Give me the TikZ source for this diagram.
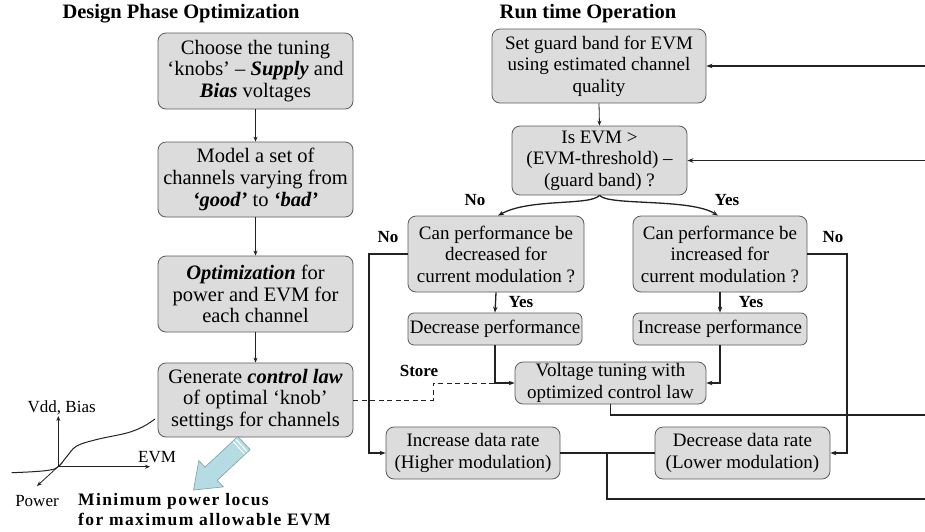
\documentclass[tikz,border=0pt]{standalone}
\usepackage{fontspec}
\setmainfont{Liberation Serif}
\usetikzlibrary{arrows.meta,calc}
\definecolor{boxfill}{HTML}{DCDCDC}
\definecolor{boxline}{HTML}{5A5A5A}
\definecolor{wirecol}{HTML}{222222}
\definecolor{bluefill}{HTML}{B5DCE3}
\definecolor{blueline}{HTML}{7E9EA4}
\tikzset{
  box/.style={draw=boxline, fill=boxfill, rounded corners=8pt, line width=0.8pt,
    align=center, inner sep=0pt, font=\fontsize{19}{21.5}\selectfont},
  bigbox/.style={box, font=\fontsize{20.5}{21.7}\selectfont},
  thinarr/.style={draw=wirecol, line width=0.8pt, -{Stealth[length=5pt,width=4pt]}},
  wire/.style={draw=wirecol, line width=1.3pt},
  warr/.style={wire, -{Stealth[length=6pt,width=4.5pt]}},
  tag/.style={font=\fontsize{17}{19}\bfseries\selectfont, inner sep=0pt},
  title/.style={font=\fontsize{20.5}{22}\bfseries\selectfont, inner sep=0pt},
  plain/.style={font=\fontsize{17}{19}\selectfont, inner sep=0pt},
  locus/.style={anchor=west, inner sep=0pt,
    font=\fontsize{17.5}{19}\bfseries\addfontfeature{LetterSpace=8}\selectfont},
}
\begin{document}
\begin{tikzpicture}[x=1pt,y=-1pt]
\useasboundingbox (0,0) rectangle (925,531);

% ---- titles
\node[title] (t1) at (181,14) {Design Phase Optimization};
\node[title] (t2) at (588,14) {Run time Operation};

% ---- design phase column
\node[bigbox, minimum width=195pt, minimum height=76pt] (D1) at (255.5,71)
  {Choose the tuning\\‘knobs’ – \textbf{\textit{Supply}} and\\\textbf{\textit{Bias}} voltages};
\node[bigbox, minimum width=195pt, minimum height=75pt] (D2) at (255.5,179.5)
  {Model a set of\\channels varying from\\\textbf{\textit{‘good’}} to \textbf{\textit{‘bad’}}};
\node[bigbox, minimum width=195pt, minimum height=76pt] (D3) at (255.5,294)
  {\textbf{\textit{Optimization}} for\\power and EVM for\\each channel};
\node[bigbox, minimum width=195pt, minimum height=74pt] (D4) at (255.5,400)
  {Generate \textbf{\textit{control law}}\\of optimal ‘knob’\\settings for channels};

\draw[thinarr] (D1.south) -- (D2.north);
\draw[thinarr] (D2.south) -- (D3.north);
\draw[thinarr] (D3.south) -- (D4.north);

% ---- run time column
\node[box, minimum width=214pt, minimum height=74pt] (R1) at (599,66)
  {Set guard band for EVM\\using estimated channel\\quality};
\node[box, minimum width=175pt, minimum height=69pt] (R2) at (599.5,160.5)
  {Is EVM >\\(EVM-threshold) –\\(guard band) ?};
\node[box, minimum width=176pt, minimum height=76pt] (Lq) at (496,254)
  {Can performance be\\decreased for\\current modulation ?};
\node[box, minimum width=174pt, minimum height=76pt] (Rq) at (720,254)
  {Can performance be\\increased for\\current modulation ?};
\node[box, minimum width=174pt, minimum height=32pt, rounded corners=6pt] (Dp) at (495,329)
  {Decrease performance};
\node[box, minimum width=174pt, minimum height=32pt, rounded corners=6pt] (Ip) at (720,329)
  {Increase performance};
\node[box, minimum width=191pt, minimum height=42pt] (V) at (610.5,383)
  {Voltage tuning with\\optimized control law};
\node[box, minimum width=174pt, minimum height=52pt] (Idr) at (473,453)
  {Increase data rate\\(Higher modulation)};
\node[box, minimum width=175pt, minimum height=52pt] (Ddr) at (742.5,453)
  {Decrease data rate\\(Lower modulation)};

% loose ends leaving the right border
\coordinate (fb1) at (925,66);
\coordinate (fb2) at (925,160.5);
\coordinate (fb3) at (925,415);
\coordinate (fb4) at (925,499);
\coordinate (lbend) at (369,254);
\coordinate (rbend) at (847,254);
\coordinate (st) at (433,383);
\coordinate (mg) at (495,383);
\coordinate (jn) at (607,453);

\draw[thinarr] (R1.south) -- (R2.north);
\draw[warr] (fb1) -- (R1.east);
\draw[warr] (fb2) -- (R2.east);

\draw[warr] (R2.south) .. controls (590,206) and (530,198) .. ([xshift=2pt]Lq.north);
\draw[warr] (R2.south) .. controls (609,206) and (690,198) .. ([xshift=-2pt]Rq.north);

\draw[warr] (Lq.west) -- (lbend) |- (Idr.west);
\draw[warr] (Rq.east) -- (rbend) |- (Ddr.east);

\draw[warr] (Lq.south) -- (Dp.north);
\draw[warr] (Rq.south) -- (Ip.north);

\draw[warr] (Dp.south) |- (V.west);
\draw[warr] (Ip.south) |- (V.east);

\draw[wire, line width=1pt, dash pattern=on 5pt off 3.5pt] (D4.east) -| (st) -- (mg);

\draw[wire] (V.south) |- (fb3);
\draw[wire] (Idr.east) -- (Ddr.west);
\draw[wire] (jn) |- (fb4);

% ---- branch labels
\node[tag] (n1) at (475,200) {No};
\node[tag] (y1) at (727,200) {Yes};
\node[tag] (n2) at (388,237) {No};
\node[tag] (n3) at (833,237) {No};
\node[tag] (y2) at (521,302) {Yes};
\node[tag] (y3) at (751,302) {Yes};
\node[tag] (sl) at (419,371) {Store};

% ---- sketch of the control law
\draw[thinarr] (58.3,466.7) -- (58.3,416);
\draw[thinarr] (58.3,466.7) -- (150,466.7);
\draw[thinarr] (62,463) -- (37,486);
\draw[line width=1pt, wirecol] plot[smooth, tension=0.6] coordinates
  {(11.7,472.7) (33,471.7) (50,470) (58.3,466.7) (66.7,456.7) (76.7,446)
   (96.7,439.5) (126.7,433) (143,426.7) (155,419)};
\node[plain] (va) at (61.7,408) {Vdd, Bias};
\node[plain] (ev) at (157,457) {EVM};
\node[plain] (pw) at (37,501) {Power};
\node[locus] (ml) at (78,501) {Minimum power locus};
\node[locus] (ml2) at (78,519) {for maximum allowable EVM};

% ---- wide pointer from the control-law box to the locus
\begin{scope}[shift={(244,443)}, rotate=-137]
  \fill[bluefill, draw=blueline, line width=0.6pt]
    (0,-9) -- (45,-9) -- (45,-18) -- (69,0) -- (45,18) -- (45,9) -- (0,9) -- cycle;
  \draw[white, line width=1pt] (3.5,-8.4) -- (3.5,8.4);
  \draw[white, line width=1pt] (7,-8.4) -- (7,8.4);
\end{scope}
\end{tikzpicture}
\end{document}
